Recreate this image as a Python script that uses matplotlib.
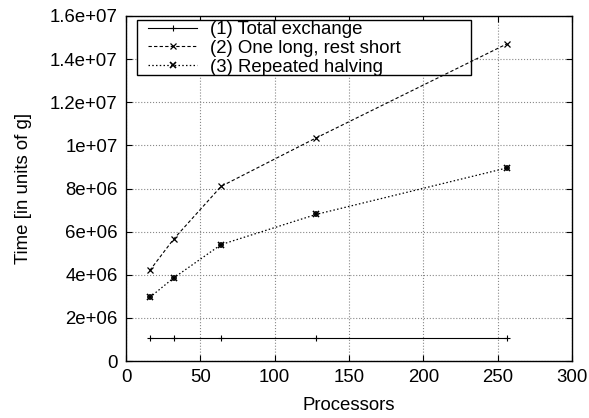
#!/usr/bin/env python3

"""Exchange time vs processor count, gnuplot look."""

import matplotlib
matplotlib.use('Agg')
import matplotlib.pyplot as plt
from matplotlib.patches import Rectangle
from matplotlib.ticker import FuncFormatter

plt.rcParams['font.family'] = ['Liberation Sans', 'DejaVu Sans']
plt.rcParams['font.size'] = 13.4

# data
procs = [16, 32, 64, 128, 256]
total_exchange = [1.05e6, 1.05e6, 1.05e6, 1.05e6, 1.05e6]
one_long = [4.2e6, 5.65e6, 8.1e6, 10.35e6, 14.7e6]
halving = [2.95e6, 3.85e6, 5.4e6, 6.8e6, 8.95e6]

series_labels = ['(1) Total exchange', '(2) One long, rest short', '(3) Repeated halving']
x_ticks = [0, 50, 100, 150, 200, 250, 300]
y_ticks = [0, 2e6, 4e6, 6e6, 8e6, 1e7, 1.2e7, 1.4e7, 1.6e7]


def gnu_fmt(v, pos):
    # gnuplot %g style labels
    if v == 0:
        return '0'
    return '%g' % v


fig = plt.figure(figsize=(5.89, 4.18), dpi=100)
ax = fig.add_axes([126 / 589, 57 / 418, 446 / 589, 345 / 418])
ax.set_axisbelow(True)

ax.plot(procs, total_exchange, '-', color='black', lw=0.8, marker='+', ms=5, mew=0.8,
        label=series_labels[0], zorder=3)
ax.plot(procs, one_long, '--', color='black', lw=0.8, dashes=(3, 2), marker='x', ms=4.5, mew=0.9,
        label=series_labels[1], zorder=3)
ax.plot(procs, halving, ':', color='black', lw=0.9, dashes=(1.2, 1.8), marker='x', ms=4.5, mew=1.2,
        label=series_labels[2], zorder=3)
# gnuplot "*" point = x plus +
ax.plot(procs, halving, ' ', color='black', marker='+', ms=4.5, mew=1.2, zorder=3)

ax.set_xlim(0, 300)
ax.set_ylim(0, 1.6e7)
ax.set_xticks(x_ticks)
ax.set_yticks(y_ticks)
ax.yaxis.set_major_formatter(FuncFormatter(gnu_fmt))
ax.tick_params(direction='in', top=True, right=True, length=4, width=0.8, pad=6)
ax.grid(True, color='#888888', ls=':', lw=0.8)
for sp in ax.spines.values():
    sp.set_linewidth(1.0)

ax.set_xlabel('Processors', labelpad=8)
ax.set_ylabel('Time [in units of g]', labelpad=13)

# key box, drawn by hand so the curves can cross it while the grid is hidden
ax.add_patch(Rectangle((11 / 446, 286 / 345), 334 / 446, 55 / 345, transform=ax.transAxes,
                       facecolor='white', edgecolor='black', lw=1.0, zorder=2.5))
h, l = ax.get_legend_handles_labels()
leg = ax.legend(h, l, loc='upper left', bbox_to_anchor=(22 / 446, 340 / 345), frameon=False,
                handlelength=2.65, borderpad=0, labelspacing=0.1, handletextpad=0.7,
                borderaxespad=0)
leg.set_zorder(4)

fig.savefig('out.png', dpi=100)
